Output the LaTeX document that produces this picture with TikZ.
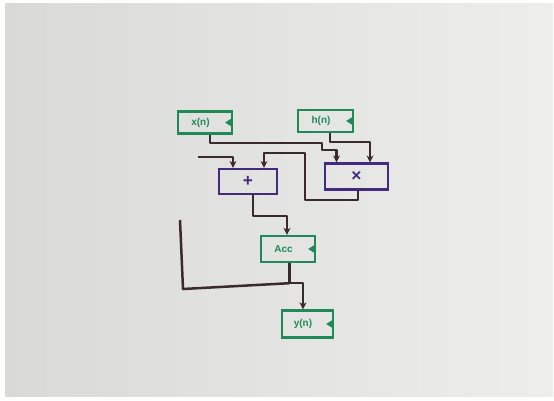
\documentclass[tikz,border=0pt]{standalone}
\usepackage{fontspec}
\setsansfont{Liberation Sans}
\usetikzlibrary{arrows.meta,positioning}

\definecolor{paper}{HTML}{E2E2E0}
\definecolor{portgreen}{HTML}{1F8A55}
\definecolor{oppurple}{HTML}{45297F}
\definecolor{wirebrown}{HTML}{3B2A2D}

\tikzset{
    port/.style={draw=portgreen, text=portgreen, line width=2.4pt, rectangle,
        minimum width=54pt, minimum height=22pt, inner sep=0pt,
        font=\sffamily\bfseries\normalsize, execute at end node={\hspace{9pt}}},
    op/.style={draw=oppurple, text=oppurple, line width=2.2pt, rectangle,
        minimum width=58pt, minimum height=25pt, inner sep=0pt,
        font=\sffamily\bfseries\LARGE},
    wire/.style={draw=wirebrown, line width=2.5pt, line join=round,
        -{Stealth[length=7pt,width=7pt]}},
}

\begin{document}
\begin{tikzpicture}[x=1pt, y=-1pt]
    % sheet
    \fill[white] (0,0) rectangle (554,401);
    \shade[left color=paper!96!black, right color=paper!60!white] (5,4) rectangle (553,396);
    \useasboundingbox (0,0) rectangle (554,401);

    % inputs
    \node (xn) at (205,122.5) [port] {x(n)};
    \node (hn) at (325.5,121) [port, minimum width=55pt] {h(n)};

    % operators
    \node (add) at (248,181.5) [op] {+};
    \node (mul) at (356.5,176.5) [op, minimum width=63pt, minimum height=26pt] {×};

    % accumulator and output
    \node (acc) at (288,249) [port, minimum height=26pt] {Acc};
    \node (yn) at (307.5,324) [port, minimum width=51pt, minimum height=27pt] {y(n)};

    % port flags
    \foreach \n in {xn,hn,acc,yn}
        \fill[portgreen] ([xshift=-1pt]\n.east) ++(0,-4.5) -- ++(0,9) -- ++(-7,-4.5) -- cycle;

    % free input of the adder
    \coordinate (in) at (198,157);
    \coordinate (fb) at (180,220);

    \draw[wire] ([xshift=5pt]xn.south) |- (322,143) -- (322,150) -| ([xshift=-20pt]mul.north);
    \draw[wire] ([xshift=4.5pt]hn.south) -- ++(0,9) -| ([xshift=13.5pt]mul.north);
    \draw[wire] (in) -| ([xshift=-15pt]add.north);
    \draw[wire] ([xshift=1.5pt]mul.south) |- (305,200) -- (305,153) -| ([xshift=16pt]add.north);
    \draw[wire] ([xshift=5pt]add.south) -- ++(0,21) -| ([xshift=-1pt]acc.north);
    \draw[wire] ([xshift=1.5pt]acc.south) -- ++(0,20) coordinate (tap) -| ([xshift=-4.5pt]yn.north);
    \draw[wire, -] (tap) -- (183,289) -- (fb);
\end{tikzpicture}
\end{document}
